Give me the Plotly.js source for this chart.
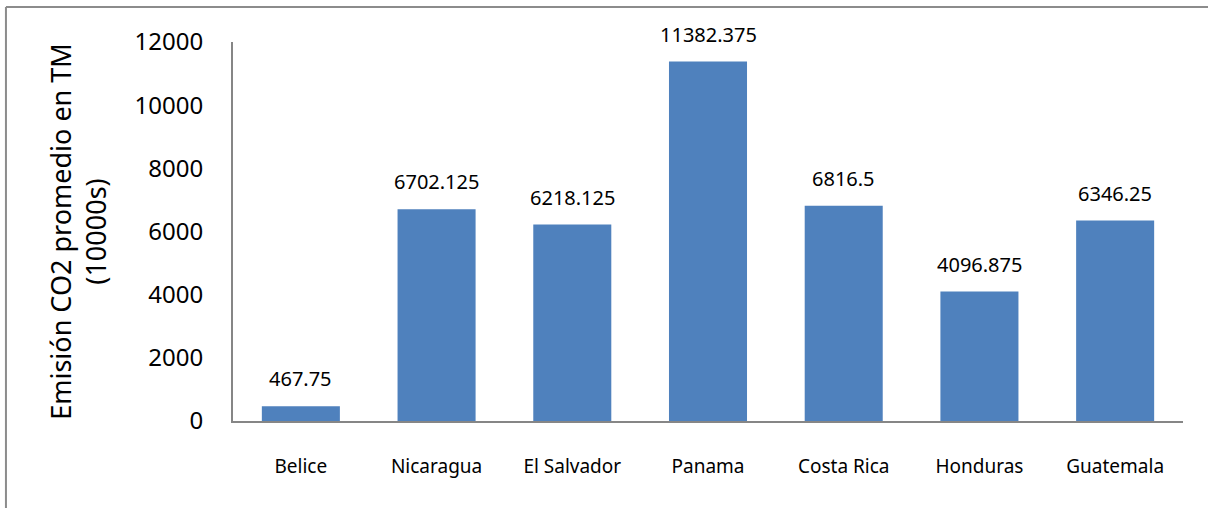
<!DOCTYPE html>
<html>
<head>
<meta charset="utf-8">
<script src="https://cdn.plot.ly/plotly-3.0.1.min.js"></script>
<style>html,body{margin:0;padding:0;background:#fff;}#chart{width:1208px;height:508px;}</style>
</head>
<body>
<div id="chart"></div>
<script>
const categories = ["Belice", "Nicaragua", "El Salvador", "Panama", "Costa Rica", "Honduras", "Guatemala"];
const values = [467.75, 6702.125, 6218.125, 11382.375, 6816.5, 4096.875, 6346.25];
const yTicks = [0, 2000, 4000, 6000, 8000, 10000, 12000];
const yTitle = "Emisión CO2 promedio en TM<br>(10000s)";

const FONT = "Noto Sans, Open Sans, sans-serif";

const trace = {
  type: "bar",
  x: categories,
  y: values,
  width: 0.575,
  marker: {color: "#4F81BD"},
  hoverinfo: "x+y"
};

const annotations = categories.map((c, i) => ({
  x: c, y: values[i], xref: "x", yref: "y",
  text: String(values[i]),
  showarrow: false, yanchor: "bottom", yshift: 12,
  font: {family: FONT, size: 20, color: "#000"}
}));

const layout = {
  width: 1208, height: 508,
  margin: {l: 233, r: 25, t: 42, b: 87},
  paper_bgcolor: "#fff", plot_bgcolor: "#fff",
  showlegend: false,
  bargap: 0.425,
  xaxis: {
    type: "category",
    showline: true, linecolor: "#868686", linewidth: 2,
    ticks: "", showgrid: false,
    ticklabelstandoff: 27,
    tickfont: {family: FONT, size: 19, color: "#000"}
  },
  yaxis: {
    range: [0, 12000],
    tickvals: yTicks,
    ticktext: yTicks.map(String),
    showline: true, linecolor: "#868686", linewidth: 2,
    showgrid: false, zeroline: false, ticks: "",
    ticklabelstandoff: 23,
    tickfont: {family: FONT, size: 24, color: "#000"},
    title: {text: yTitle, font: {family: FONT, size: 27, color: "#000"}, standoff: 20}
  },
  annotations: annotations,
  shapes: [
    {type: "line", xref: "paper", yref: "paper", x0: -0.239, x1: 1.03, y0: 1.0923, y1: 1.0923, line: {color: "#8c8c8c", width: 2}},
    {type: "line", xref: "paper", yref: "paper", x0: -0.239, x1: -0.239, y0: 1.0923, y1: -0.25, line: {color: "#8c8c8c", width: 2}}
  ]
};

Plotly.newPlot("chart", [trace], layout, {displayModeBar: false, staticPlot: true});
</script>
</body>
</html>
